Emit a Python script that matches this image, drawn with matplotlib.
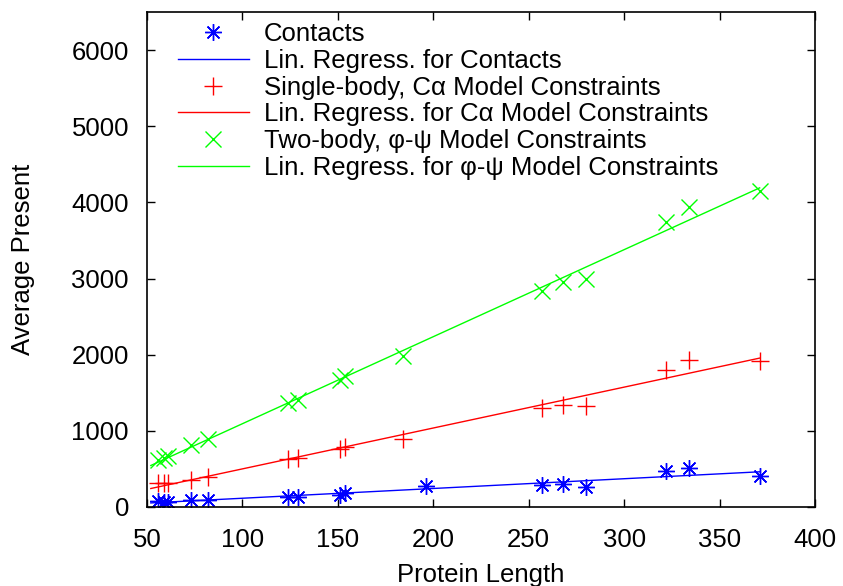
import numpy as np
import matplotlib
matplotlib.use("Agg")
import matplotlib.pyplot as plt

plt.rcParams["font.family"] = ["Liberation Sans", "DejaVu Sans"]

# protein lengths
length = [56, 59, 61, 73, 82, 124, 129, 151, 154, 184, 257, 268, 280, 322, 334, 371]
length_contacts = [56, 59, 61, 73, 82, 124, 129, 151, 154, 196, 257, 268, 280, 322, 334, 371]

contacts = [79, 70, 70, 92, 92, 136, 128, 158, 180, 276, 289, 303, 259, 478, 509, 408]
ca_constraints = [312, 312, 320, 355, 399, 628, 641, 759, 786, 891, 1299, 1342, 1320, 1803, 1934, 1912]
phipsi_constraints = [618, 641, 671, 816, 891, 1364, 1408, 1662, 1724, 1987, 2842, 2961, 3000, 3741, 3938, 4149]

fit_span = [52, 371]
FS = 18.5


def regression(x, y):
    k, d = np.polyfit(x, y, 1)
    xs = np.array(fit_span)
    return xs, k * xs + d


fig = plt.figure(figsize=(8.43, 5.86), dpi=100)
ax = fig.add_axes([147 / 843, 1 - 507 / 586, 668 / 843, 495 / 586])

ax.plot(length_contacts, contacts, ls="none", marker=(8, 2, 0), ms=12, mew=1.0,
        color="#0000ff", label="Contacts")
ax.plot(*regression(length_contacts, contacts), color="#0000ff", lw=1.0,
        label="Lin. Regress. for Contacts")
ax.plot(length, ca_constraints, ls="none", marker="+", ms=13, mew=1.0,
        color="#ff0000", label="Single-body, C\u03b1 Model Constraints")
ax.plot(*regression(length, ca_constraints), color="#ff0000", lw=1.0,
        label="Lin. Regress. for C\u03b1 Model Constraints")
ax.plot(length, phipsi_constraints, ls="none", marker="x", ms=11, mew=1.0,
        color="#00ff00", label="Two-body, \u03c6-\u03c8 Model Constraints")
ax.plot(*regression(length, phipsi_constraints), color="#00ff00", lw=1.0,
        label="Lin. Regress. for \u03c6-\u03c8 Model Constraints")

ax.set_xlim(50, 400)
ax.set_ylim(0, 6500)
ax.set_xticks(range(50, 401, 50))
ax.set_yticks(range(0, 6001, 1000))
ax.tick_params(direction="in", length=6, width=1.0, top=True, right=True,
               labelsize=FS)
ax.tick_params(axis="x", pad=15)
ax.tick_params(axis="y", pad=13)
for s in ax.spines.values():
    s.set_linewidth(1.2)

ax.set_xlabel("Protein Length", fontsize=FS, labelpad=8)
ax.set_ylabel("Average Present", fontsize=FS, labelpad=26.5)

ax.legend(loc="upper left", bbox_to_anchor=(178 / 843, 1 - 22 / 586),
          bbox_transform=fig.transFigure, frameon=False, fontsize=FS,
          handlelength=2.76, handletextpad=0.58, labelspacing=0.11,
          borderpad=0, borderaxespad=0)

fig.savefig("out.png", dpi=100)
